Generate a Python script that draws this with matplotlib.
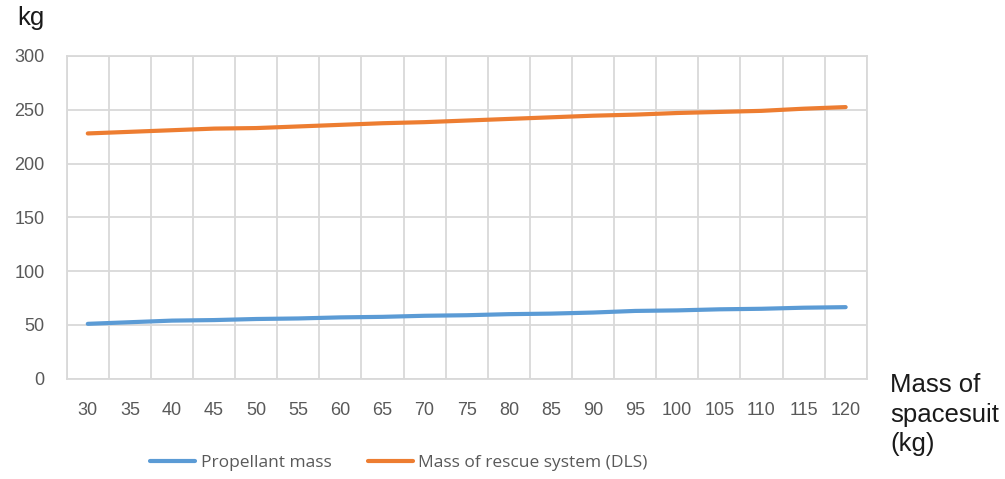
import matplotlib
matplotlib.use("Agg")
import matplotlib.pyplot as plt

# data
suit_mass = [30, 35, 40, 45, 50, 55, 60, 65, 70, 75, 80, 85, 90, 95, 100, 105, 110, 115, 120]
propellant = [51, 52.5, 54, 54.5, 55.5, 56, 57, 57.5, 58.5, 59, 60, 60.5, 61.5, 63, 63.5, 64.5, 65, 66, 66.5]
rescue = [228, 229.5, 231, 232.5, 233, 234.5, 236, 237.5, 238.5, 240, 241.5, 243, 244.5, 245.5, 247, 248, 249, 251, 252.5]

grey = "#595959"
gridc = "#D9D9D9"

fig = plt.figure(figsize=(10.05, 4.79), dpi=100)
ax = fig.add_axes([0.0664, 0.2094, 0.796, 0.6737])

x = list(range(len(suit_mass)))
ax.plot(x, propellant, color="#5B9BD5", lw=3, solid_capstyle="round", label="Propellant mass")
ax.plot(x, rescue, color="#ED7D31", lw=3, solid_capstyle="round", label="Mass of rescue system (DLS)")

ax.set_xlim(-0.5, len(x) - 0.5)
ax.set_ylim(0, 300)
ax.set_yticks(range(0, 301, 50))
ax.set_xticks(x)
ax.set_xticklabels([str(v) for v in suit_mass])
ax.set_xticks([i + 0.5 for i in range(-1, len(x))], minor=True)

ax.grid(axis="y", which="major", color=gridc, lw=1.3)
ax.grid(axis="x", which="minor", color=gridc, lw=1.3)
ax.tick_params(which="both", length=0)
ax.tick_params(axis="y", pad=16, labelsize=13, labelcolor=grey)
ax.tick_params(axis="x", pad=17, labelsize=13, labelcolor=grey)
for lab in ax.get_xticklabels() + ax.get_yticklabels():
    lab.set_family("Liberation Sans")
for s in ax.spines.values():
    s.set_color(gridc)
    s.set_linewidth(1.3)
ax.set_axisbelow(True)

fig.text(17 / 1005, 1 - 25 / 479, "kg", fontsize=18.5, family="Liberation Sans",
         va="baseline", ha="left", color="#1a1a1a")
fig.text(890 / 1005, 1 - 373 / 479, "Mass of\nspacesuit\n(kg)", fontsize=18.5,
         family="Liberation Sans", va="top", ha="left", linespacing=1.3, color="#1a1a1a")

leg = fig.legend(loc="center", bbox_to_anchor=(0.397, 0.033), ncol=2, frameon=False,
                 prop={"family": "Open Sans", "size": 12.5}, handlelength=2.6,
                 handletextpad=0.3, columnspacing=2.1)
for t in leg.get_texts():
    t.set_color(grey)

fig.savefig("out.png", dpi=100)
